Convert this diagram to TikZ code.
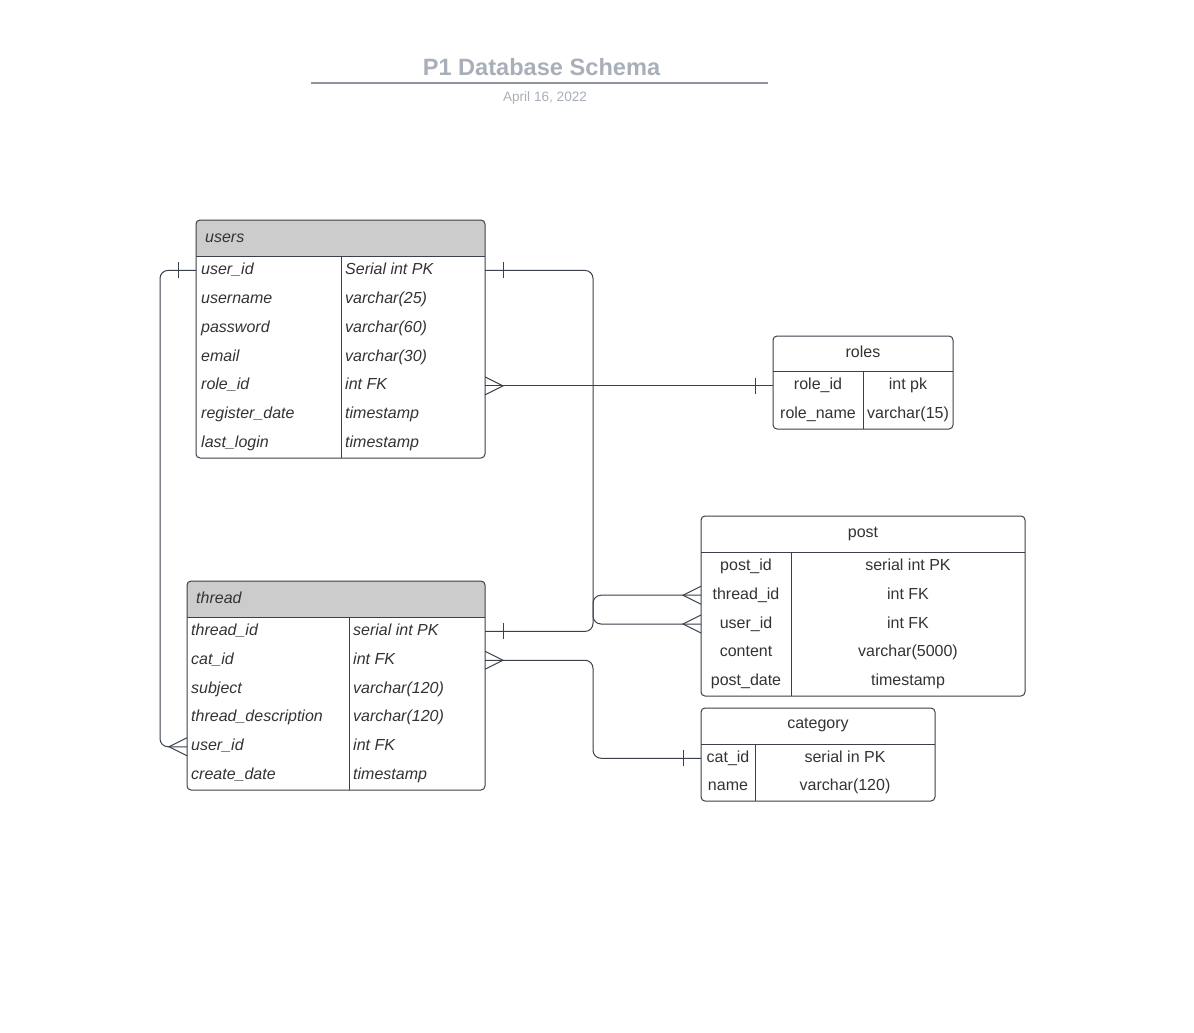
\documentclass[tikz,border=0pt]{standalone}
\usepackage{fontspec}
\setmainfont{Liberation Sans}
\usetikzlibrary{calc}
\definecolor{ln}{HTML}{3A414A}
\definecolor{tx}{HTML}{333333}
\definecolor{hd}{HTML}{CCCCCC}
\definecolor{tt}{HTML}{A9AFB9}
\tikzset{
  frame/.style={draw=ln, line width=1pt},
  conn/.style={draw=ln, line width=1pt},
  cell/.style={inner sep=0pt, text=tx, font=\fontsize{16}{19}\selectfont},
  lcell/.style={cell, anchor=base west, font=\fontsize{16}{19}\selectfont\itshape},
  ccell/.style={cell, anchor=base},
  rowbox/.style={inner sep=0pt, outer sep=0pt, anchor=west, minimum height=28pt},
}
% x1 y1 x2 yh y2 xdiv fill
\newcommand\tframe[7]{%
  \fill[#7] (#1,#4) [rounded corners=4pt] -- (#1,#2) -- (#3,#2) [sharp corners] -- (#3,#4) -- cycle;
  \draw[frame, rounded corners=4pt] (#1,#2) rectangle (#3,#5);
  \draw[frame] (#1,#4) -- (#3,#4);
  \draw[frame] (#6,#4) -- (#6,#5);
}
\begin{document}
\begin{tikzpicture}[x=1pt, y=-1pt]
\useasboundingbox (0,0) rectangle (1194,1033);

% title
\node[anchor=base, inner sep=0pt, text=tt, font=\fontsize{23.6}{28}\selectfont\bfseries] (title) at (541.5,75) {P1 Database Schema};
\draw[draw=tt!85!black, line width=2pt] (311,83) coordinate (rl) -- (768,83) coordinate (rr);
\node[anchor=base, inner sep=0pt, text=tt, font=\fontsize{13.6}{16}\selectfont] (date) at (545,101.5) {April 16, 2022};

% ---------- users ----------
\tframe{196}{220}{485}{256}{458}{341}{hd}
\node[lcell] (users-t) at (205,242) {users};
\foreach \i/\a/\b [evaluate=\i as \yc using {256+28.857*(\i-0.5)}] in
  {1/user\_id/Serial int PK, 2/username/varchar(25), 3/password/varchar(60), 4/email/varchar(30),
   5/role\_id/int FK, 6/register\_date/timestamp, 7/last\_login/timestamp}{
  \node[rowbox, minimum width=289pt] (users-r\i) at (196,\yc) {};
  \node[lcell] (users-a\i) at (201,\yc+4) {\a};
  \node[lcell] (users-b\i) at (345,\yc+4) {\b};
}

% ---------- thread ----------
\tframe{187}{581}{485}{617}{790}{349}{hd}
\node[lcell] (thread-t) at (196,603) {thread};
\foreach \i/\a/\b [evaluate=\i as \yc using {617+28.833*(\i-0.5)}] in
  {1/thread\_id/serial int PK, 2/cat\_id/int FK, 3/subject/varchar(120),
   4/thread\_description/varchar(120), 5/user\_id/int FK, 6/create\_date/timestamp}{
  \node[rowbox, minimum width=298pt] (thread-r\i) at (187,\yc) {};
  \node[lcell] (thread-a\i) at (191,\yc+4) {\a};
  \node[lcell] (thread-b\i) at (353,\yc+4) {\b};
}

% ---------- roles ----------
\tframe{773}{336}{953}{371}{429}{863}{white}
\node[ccell] (roles-t) at (863,357) {roles};
\foreach \i/\a/\b [evaluate=\i as \yc using {371+29*(\i-0.5)}] in
  {1/role\_id/int pk, 2/role\_name/varchar(15)}{
  \node[rowbox, minimum width=180pt] (roles-r\i) at (773,\yc) {};
  \node[ccell] (roles-a\i) at (818,\yc+4) {\a};
  \node[ccell] (roles-b\i) at (908,\yc+4) {\b};
}

% ---------- post ----------
\tframe{701}{516}{1025}{552}{696}{791}{white}
\node[ccell] (post-t) at (863,537.5) {post};
\foreach \i/\a/\b [evaluate=\i as \yc using {552+28.8*(\i-0.5)}] in
  {1/post\_id/serial int PK, 2/thread\_id/int FK, 3/user\_id/int FK,
   4/content/varchar(5000), 5/post\_date/timestamp}{
  \node[rowbox, minimum width=324pt] (post-r\i) at (701,\yc) {};
  \node[ccell] (post-a\i) at (746,\yc+4) {\a};
  \node[ccell] (post-b\i) at (908,\yc+4) {\b};
}

% ---------- category ----------
\tframe{701}{708}{935}{744}{801}{755}{white}
\node[ccell] (cat-t) at (818,728.5) {category};
\foreach \i/\a/\b [evaluate=\i as \yc using {744+28.5*(\i-0.5)}] in
  {1/cat\_id/serial in PK, 2/name/varchar(120)}{
  \node[rowbox, minimum width=234pt] (cat-r\i) at (701,\yc) {};
  \node[ccell] (cat-a\i) at (728,\yc+4) {\a};
  \node[ccell] (cat-b\i) at (845,\yc+4) {\b};
}

% ---------- connectors ----------
\coordinate (busx) at (593,0);
\coordinate (lbus) at (160,0);

% users.user_id -> post.user_id
\draw[conn, rounded corners=8pt] (users-r1.east) -| (busx |- post-r3.west) -- (post-r3.west);
% thread.thread_id -> post.thread_id
\draw[conn, rounded corners=8pt] (thread-r1.east) -| (busx |- post-r2.west) -- (post-r2.west);
% users.role_id -> roles.role_id
\draw[conn] (users-r5.east) -- (roles-r1.west |- users-r5.east);
% users.user_id -> thread.user_id
\draw[conn, rounded corners=8pt] (users-r1.west) -| (lbus |- thread-r5.west) -- (thread-r5.west);
% thread.cat_id -> category.cat_id
\draw[conn, rounded corners=8pt] (thread-r2.east) -| (busx |- cat-r1.west) -- (cat-r1.west);

% one marks (bars)
\draw[conn] ($(users-r1.east)+(18,-8)$) -- ++(0,16);
\draw[conn] ($(users-r1.west)+(-18,-8)$) -- ++(0,16);
\draw[conn] ($(thread-r1.east)+(18,-8)$) -- ++(0,16);
\draw[conn] ($(roles-r1.west |- users-r5.east)+(-18,-8)$) -- ++(0,16);
\draw[conn] ($(cat-r1.west)+(-18,-8)$) -- ++(0,16);

% many marks (crow's feet)
\draw[conn] ($(users-r5.east)+(0,-9)$) -- ++(18,9) -- ++(-18,9);
\draw[conn] ($(thread-r2.east)+(0,-9)$) -- ++(18,9) -- ++(-18,9);
\draw[conn] ($(thread-r5.west)+(0,-9)$) -- ++(-18,9) -- ++(18,9);
\draw[conn] ($(post-r2.west)+(0,-9)$) -- ++(-18,9) -- ++(18,9);
\draw[conn] ($(post-r3.west)+(0,-9)$) -- ++(-18,9) -- ++(18,9);
\end{tikzpicture}
\end{document}
